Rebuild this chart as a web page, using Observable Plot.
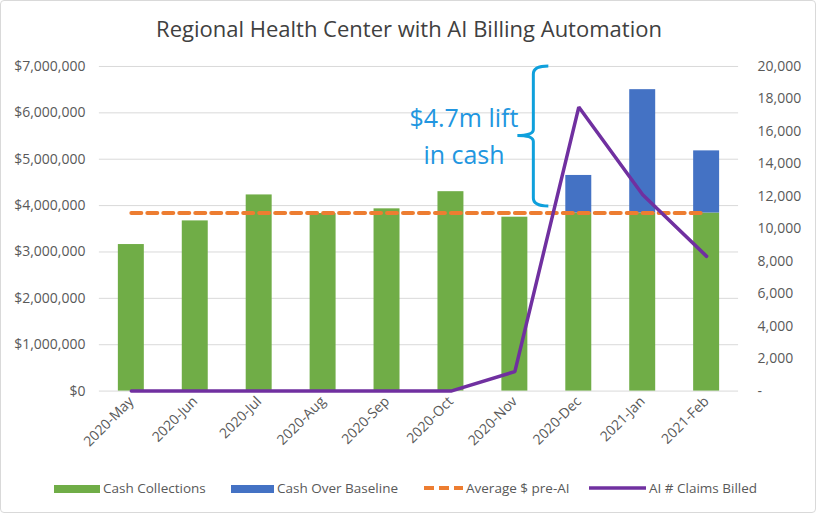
<!DOCTYPE html>
<html><head><meta charset="utf-8">
<script src="https://cdn.jsdelivr.net/npm/d3@7"></script>
<script src="https://cdn.jsdelivr.net/npm/@observablehq/plot@0.6"></script>
<style>
body{margin:0;background:#fff;font-family:"Open Sans",sans-serif;}
#frame{position:relative;width:814px;height:511px;border:1px solid #d9d9d9;border-radius:4px;overflow:hidden;background:#fff;}
#title{position:absolute;top:12px;left:0;width:816px;text-align:center;font-size:22px;color:#404040;white-space:nowrap;}
#chart{position:absolute;top:48px;left:-1px;}
.lg{position:absolute;top:478px;font-size:13.5px;color:#595959;line-height:18px;white-space:nowrap;}
.sw{position:absolute;top:6px;height:8px;}
</style></head>
<body>
<div id="frame">
<div id="title">Regional Health Center with AI Billing Automation</div>
<div id="chart"></div>
<div id="legend"></div>
</div>
<script>
const months = ["2020-May","2020-Jun","2020-Jul","2020-Aug","2020-Sep","2020-Oct","2020-Nov","2020-Dec","2021-Jan","2021-Feb"];
const cashCollections = [3160000,3670000,4230000,3830000,3930000,4300000,3750000,3840000,3840000,3840000];
const cashOverBaseline = [0,0,0,0,0,0,0,810000,2660000,1340000];
const averagePreAI = [3840000,3840000,3840000,3840000,3840000,3840000,3840000,3840000,3840000,3840000];
const claimsBilled = [0,0,0,0,0,0,1200,17500,12100,8300];
const leftTicks = [0,1000000,2000000,3000000,4000000,5000000,6000000,7000000];
const rightTicks = [0,2000,4000,6000,8000,10000,12000,14000,16000,18000,20000];
const legendLabels = ["Cash Collections","Cash Over Baseline","Average $ pre-AI","AI # Claims Billed"];
const annotationText = ["$4.7m lift","in cash"];
const bracketValues = {top:7000000, mid:5500000, bottom:3980000};

const ratio = 7000000/20000; // right axis mapped onto left axis
const colors = {green:"#70AD47", blue:"#4472C4", orange:"#ED7D31", purple:"#7030A0"};

const stackRows = [];
months.forEach((m,i)=>{
  stackRows.push({month:m, series:legendLabels[0], value:cashCollections[i]});
  stackRows.push({month:m, series:legendLabels[1], value:cashOverBaseline[i]});
});
const rows = months.map((m,i)=>({month:m, avg:averagePreAI[i], claims:claimsBilled[i]*ratio}));

const fmtMoney = d=>"$"+d3.format(",")(d);
const plot = Plot.plot({
  width:816, height:420,
  marginLeft:99, marginRight:77, marginTop:17, marginBottom:78,
  style:{fontFamily:"Open Sans, sans-serif", fontSize:"14px", color:"#595959", background:"transparent"},
  x:{domain:months, padding:0, round:false, label:null},
  y:{domain:[0,7000000], label:null},
  color:{domain:legendLabels.slice(0,2), range:[colors.green, colors.blue]},
  marks:[
    Plot.gridY(leftTicks,{stroke:"#d9d9d9", strokeOpacity:1, strokeWidth:1}),
    Plot.axisY(leftTicks,{anchor:"left", tickSize:0, tickPadding:14, tickFormat:fmtMoney, label:null, fontSize:14}),
    Plot.axisY(rightTicks.map(v=>v*ratio),{anchor:"right", tickSize:0, tickPadding:19, label:null, fontSize:14,
      tickFormat:d=>d===0?"-":d3.format(",")(Math.round(d/ratio))}),
    Plot.axisX({tickSize:0, tickRotate:-45, tickPadding:8, label:null, fontSize:14}),
    Plot.barY(stackRows, Plot.stackY({x:"month", y:"value", fill:"series", order:legendLabels.slice(0,2), insetLeft:19, insetRight:19})),
    Plot.line(rows,{x:"month", y:"avg", stroke:colors.orange, strokeWidth:4, strokeDasharray:"10,6"}),
    Plot.line(rows,{x:"month", y:"claims", stroke:colors.purple, strokeWidth:3.5, strokeLinejoin:"miter"}),
    Plot.text([annotationText.join("\n")],{x:()=>"2020-Nov", y:()=>5560000, dx:-51, text:d=>d, fill:"#2196E0", fontSize:25, lineHeight:1.5, lineAnchor:"middle"})
  ]
});
document.getElementById("chart").appendChild(plot);

// bracket annotation positioned by the scales
const xs = plot.scale("x"), ys = plot.scale("y");
const x0 = xs.apply("2020-Dec") - 13, xr = x0 + 15, xl = x0 - 16;
const yt = ys.apply(bracketValues.top), ym = ys.apply(bracketValues.mid), yb = ys.apply(bracketValues.bottom);
d3.select(plot).append("path")
  .attr("d",`M${xr},${yt} Q${x0},${yt} ${x0},${yt+8} L${x0},${ym-6} Q${x0},${ym} ${xl},${ym} Q${x0},${ym} ${x0},${ym+6} L${x0},${yb-8} Q${x0},${yb} ${xr},${yb}`)
  .attr("fill","none").attr("stroke","#0FA0DC").attr("stroke-width",3);

// legend
const lg = document.getElementById("legend");
const items = [
  {label:legendLabels[0], left:53, w:46, type:"rect", color:colors.green},
  {label:legendLabels[1], left:230, w:43, type:"rect", color:colors.blue},
  {label:legendLabels[2], left:422, w:40, type:"dash", color:colors.orange},
  {label:legendLabels[3], left:588, w:57, type:"line", color:colors.purple}
];
items.forEach(it=>{
  const d = document.createElement("div");
  d.className="lg"; d.style.left = it.left+"px";
  let sw;
  if(it.type==="rect") sw = `<div class="sw" style="left:0;width:${it.w}px;background:${it.color}"></div>`;
  else if(it.type==="dash") sw = `<svg style="position:absolute;left:0;top:5px" width="${it.w}" height="8"><line x1="1" y1="4" x2="${it.w}" y2="4" stroke="${it.color}" stroke-width="4" stroke-dasharray="10,5"/></svg>`;
  else sw = `<svg style="position:absolute;left:0;top:5px" width="${it.w}" height="8"><line x1="0" y1="4" x2="${it.w}" y2="4" stroke="${it.color}" stroke-width="3.5"/></svg>`;
  d.innerHTML = sw + `<span style="position:absolute;left:${it.w+3}px;top:0">${it.label}</span>`;
  lg.appendChild(d);
});
</script>
</body></html>
